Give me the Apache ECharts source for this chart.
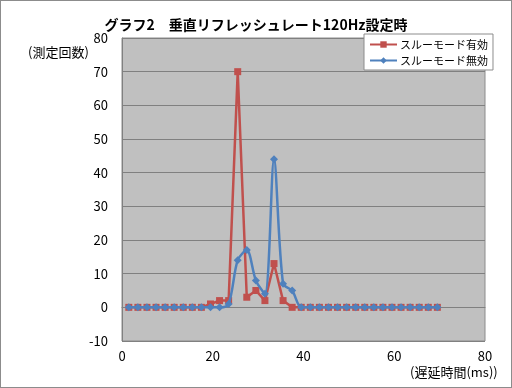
<!DOCTYPE html>
<html>
<head>
<meta charset="utf-8">
<script src="https://cdn.jsdelivr.net/npm/echarts@6/dist/echarts.min.js"></script>
<style>
html,body{margin:0;padding:0;background:#fff;}
#c{width:512px;height:388px;box-sizing:border-box;border:1px solid #8c8c8c;}
</style>
</head>
<body>
<div id="c"></div>
<script>
// Data
const titleText = 'グラフ2　垂直リフレッシュレート120Hz設定時';
const yAxisTitle = '(測定回数)';
const xAxisTitle = '(遅延時間(ms))';
const seriesNames = ['スルーモード有効', 'スルーモード無効'];
const delayMs = [1.5, 3.5, 5.5, 7.5, 9.5, 11.5, 13.5, 15.5, 17.5, 19.5,
                 21.5, 23.5, 25.5, 27.5, 29.5, 31.5, 33.5, 35.5, 37.5, 39.5,
                 41.5, 43.5, 45.5, 47.5, 49.5, 51.5, 53.5, 55.5, 57.5, 59.5,
                 61.5, 63.5, 65.5, 67.5, 69.5];
const throughOn  = [0, 0, 0, 0, 0, 0, 0, 0, 0, 1,
                    2, 2, 70, 3, 5, 2, 13, 2, 0, 0,
                    0, 0, 0, 0, 0, 0, 0, 0, 0, 0,
                    0, 0, 0, 0, 0];
const throughOff = [0, 0, 0, 0, 0, 0, 0, 0, 0, 0,
                    0, 1, 14, 17, 8, 4, 44, 7, 5, 0,
                    0, 0, 0, 0, 0, 0, 0, 0, 0, 0,
                    0, 0, 0, 0, 0];
const yTicks = {min: -10, max: 80, interval: 10};
const xTicks = {min: 0, max: 80, interval: 20};

const font = '"Noto Sans CJK JP", "Noto Sans", sans-serif';
const chart = echarts.init(document.getElementById('c'));
chart.setOption({
  animation: false,
  backgroundColor: '#ffffff',
  title: {
    text: titleText,
    left: 'center',
    top: 12,
    textStyle: {fontFamily: font, fontSize: 14, fontWeight: 'bold', color: '#000'}
  },
  legend: {
    orient: 'vertical',
    left: 363, top: 33,
    itemWidth: 27, itemHeight: 8,
    itemGap: 5,
    padding: [5, 5, 4, 5],
    backgroundColor: '#ffffff',
    borderColor: '#8c8c8c', borderWidth: 1, borderRadius: 0,
    textStyle: {fontFamily: font, fontSize: 11, color: '#000', padding: [0, 0, 0, -2]},
    data: seriesNames
  },
  grid: {
    left: 121, right: 26, top: 37, bottom: 46,
    show: true,
    backgroundColor: '#c0c0c0',
    borderColor: '#8c8c8c', borderWidth: 1
  },
  xAxis: {
    type: 'value',
    min: xTicks.min, max: xTicks.max, interval: xTicks.interval,
    axisLine: {onZero: true, lineStyle: {color: '#808080', width: 1}},
    axisTick: {show: false},
    splitLine: {show: false},
    axisLabel: {fontFamily: font, fontSize: 13, color: '#000', margin: 9}
  },
  yAxis: {
    type: 'value',
    min: yTicks.min, max: yTicks.max, interval: yTicks.interval,
    axisLine: {show: true, lineStyle: {color: '#808080'}},
    axisTick: {show: false},
    splitLine: {show: true, lineStyle: {color: '#808080', width: 1}},
    axisLabel: {fontFamily: font, fontSize: 13, color: '#000', margin: 14}
  },
  graphic: [
    {type: 'text', left: 27, top: 45,
     style: {text: yAxisTitle, font: '13px ' + font, fill: '#000'}},
    {type: 'text', left: 409, top: 365,
     style: {text: xAxisTitle, font: '13px ' + font, fill: '#000'}}
  ],
  series: [
    {
      name: seriesNames[0], type: 'line',
      data: delayMs.map((x, i) => [x, throughOn[i]]),
      symbol: 'rect', symbolSize: 7,
      lineStyle: {color: '#c0504d', width: 2.5},
      itemStyle: {color: '#c0504d'},
      z: 2
    },
    {
      name: seriesNames[1], type: 'line',
      data: delayMs.map((x, i) => [x, throughOff[i]]),
      symbol: 'diamond', symbolSize: 8,
      smooth: 0.3,
      lineStyle: {color: '#4f81bd', width: 2.5},
      itemStyle: {color: '#4f81bd'},
      z: 3
    }
  ]
});
</script>
</body>
</html>
